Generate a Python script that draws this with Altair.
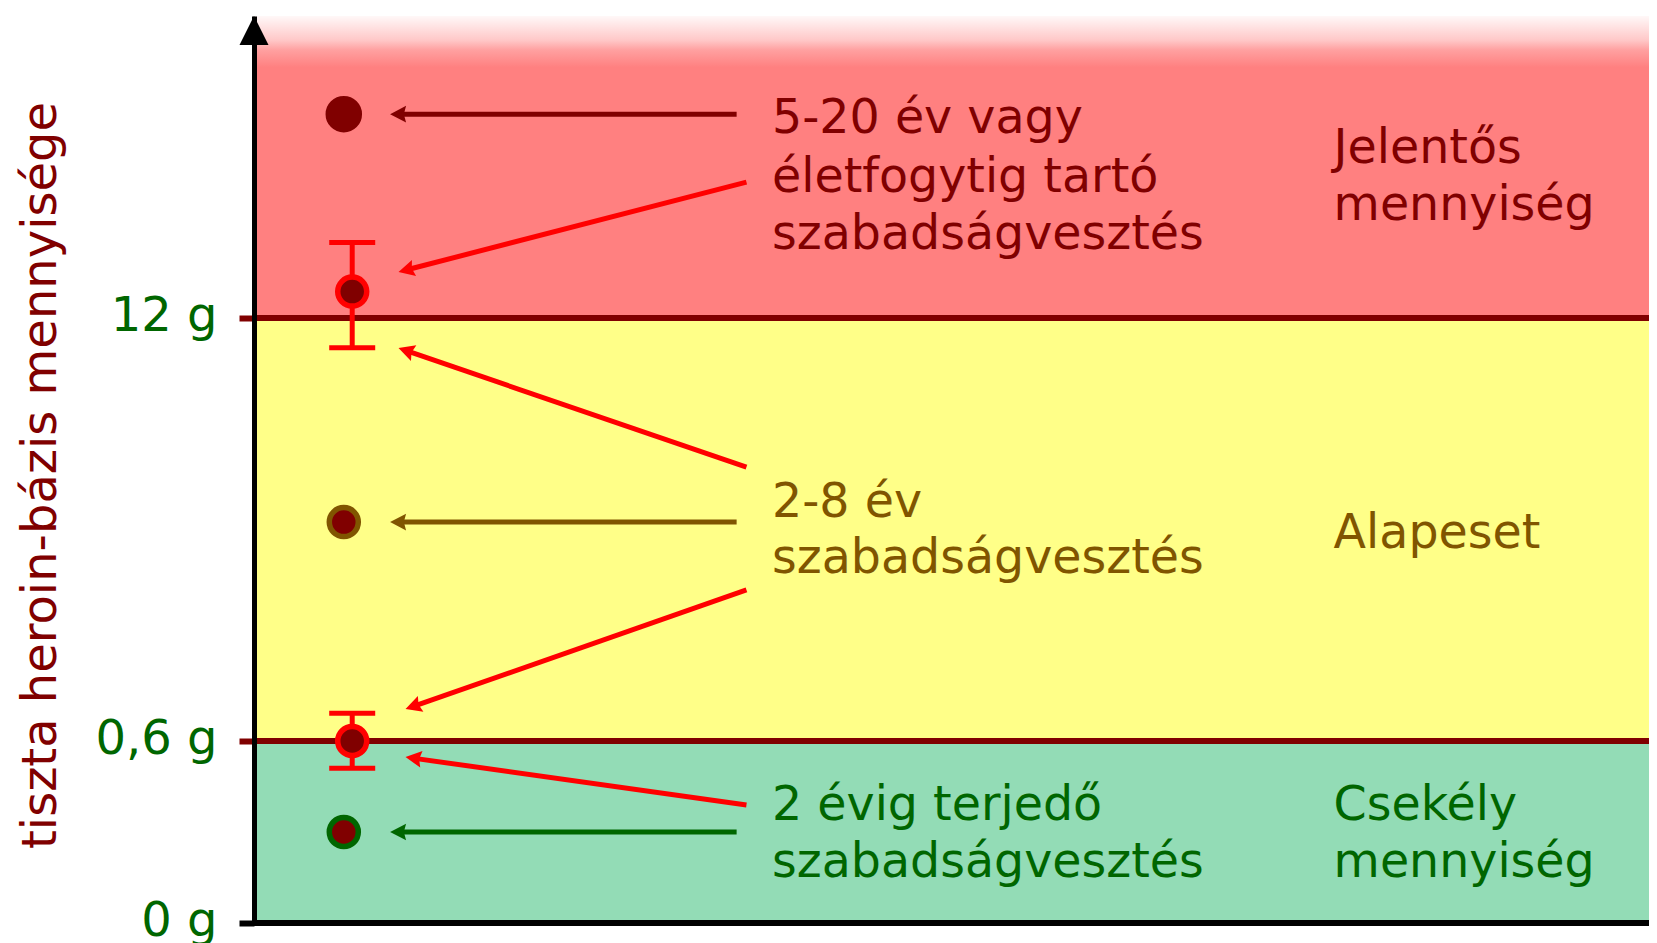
import math
import numpy as np
import pandas as pd
import altair as alt

# ---------------- layout of the plot area ----------------
W, H = 1395, 907
FONT = "DejaVu Sans"
FS = 48
FS_TXT = 47.5

DARK = "#800000"
RED = "#FF0000"
OLIVE = "#805500"
GREEN = "#006600"
PINK = "#FF8080"
YELLOW = "#FFFF88"
MINT = "#93DCB6"

# schematic (piecewise) quantity scale, in grams
Y_DOM = [0, 0.6, 12, 20]
Y_RNG = [H, H - 182, H - 605, 0]
X_DOM = [0, 99.43]

# ---------------- data ----------------
tick_values = [0, 0.6, 12]
tick_labels = ["0 g", "0,6 g", "12 g"]
axis_title = "tiszta heroin-bázis mennyisége"

band_lo = [0, 0.6]
band_hi = [0.6, 12]
band_fill = [MINT, YELLOW]
top_band_lo = [12]
top_band_hi = [20]

threshold_values = [0.6, 12]
baseline_values = [0]

point_x = [6.4, 7.0, 6.4, 7.0, 6.4]
point_y = [17.4, 12.7, 6.5, 0.6, 0.3]
point_ring = [DARK, RED, OLIVE, RED, GREEN]
point_size = [961, 841, 841, 841, 841]

err_x = [7.0, 7.0]
err_lo = [11.2, 0.51]
err_hi = [14.0, 1.35]

arrow_x1 = [34.4, 35.1, 35.1, 34.4, 35.1, 35.1, 34.4]
arrow_y1 = [17.4, 15.6, 7.98, 6.5, 4.67, 0.389, 0.3]
arrow_x2 = [9.7, 10.3, 10.3, 9.7, 10.8, 10.8, 9.7]
arrow_y2 = [17.4, 13.22, 11.19, 6.5, 1.46, 0.547, 0.3]
arrow_col = [DARK, RED, RED, OLIVE, RED, RED, GREEN]

text_lines = ["5-20 év vagy", "életfogytig tartó", "szabadságvesztés",
              "Jelentős", "mennyiség",
              "2-8 év", "szabadságvesztés",
              "Alapeset",
              "2 évig terjedő", "szabadságvesztés",
              "Csekély", "mennyiség"]
TX_L, TX_R = 36.92, 76.95
text_x = [TX_L, TX_L, TX_L, TX_R, TX_R, TX_L, TX_L, TX_R, TX_L, TX_L, TX_R, TX_R]
text_y = [16.9, 15.35, 13.82, 16.11, 14.60, 6.64, 5.13, 5.80, 0.340, 0.152, 0.340, 0.152]
text_col = [DARK] * 5 + [OLIVE] * 3 + [GREEN] * 4

# ---------------- helpers ----------------
PX_PER_X = W / (X_DOM[1] - X_DOM[0])

def ypx(g):
    return float(np.interp(g, Y_DOM, Y_RNG))

def yval(p):
    return float(np.interp(p, Y_RNG[::-1], Y_DOM[::-1]))

def xpx(v):
    return (v - X_DOM[0]) * PX_PER_X

def xval(p):
    return p / PX_PER_X + X_DOM[0]

HEAD_PATH = "M0,0L0.52,1L0,0.86L-0.52,1Z"
HEAD_S = 16  # px, = sqrt(size)/2

line_x2, line_y2, head_ang = [], [], []
for x1, y1, x2, y2 in zip(arrow_x1, arrow_y1, arrow_x2, arrow_y2):
    px1, py1, px2, py2 = xpx(x1), ypx(y1), xpx(x2), ypx(y2)
    dx, dy = px2 - px1, py2 - py1
    L = math.hypot(dx, dy)
    ux, uy = dx / L, dy / L
    line_x2.append(xval(px2 - ux * HEAD_S * 0.8))
    line_y2.append(yval(py2 - uy * HEAD_S * 0.8))
    head_ang.append(math.degrees(math.atan2(ux, -uy)) % 360)

label_expr = " : ".join(
    f"datum.value == {v} ? '{t}'" for v, t in zip(tick_values, tick_labels)
) + " : ''"

yscale = alt.Scale(domain=Y_DOM, range=Y_RNG, nice=False, zero=False)
xscale = alt.Scale(domain=X_DOM, nice=False, zero=False)

yaxis = alt.Axis(
    values=tick_values, labelExpr=label_expr, title=axis_title,
    titleFont=FONT, titleFontSize=FS, titleColor=DARK, titleFontWeight="normal",
    titleAngle=270, titleAlign="center", titleBaseline="alphabetic",
    titleX=-199, titleY=459,
    labelFont=FONT, labelFontSize=FS, labelColor=GREEN, labelPadding=22,
    labelBaseline="alphabetic", labelOffset=12, labelAlign="right",
    labelOverlap=False, labelBound=False, labelFlush=False,
    tickSize=15, tickWidth=6,
    tickColor={"condition": {"test": "datum.value == 0", "value": "black"}, "value": DARK},
    domainColor="black", domainWidth=5, grid=False, zindex=1,
)

def Y(f):
    return alt.Y(f, type="quantitative", scale=yscale, axis=yaxis)

def X(f):
    return alt.X(f, type="quantitative", scale=xscale, axis=None)

# ---------------- layers ----------------
bands = alt.Chart(pd.DataFrame({"lo": band_lo, "hi": band_hi, "c": band_fill})).mark_rect().encode(
    x=alt.X("x0:Q", scale=xscale, axis=None), x2="x1:Q",
    y=Y("lo"), y2="hi", fill=alt.Fill("c:N", scale=None),
).transform_calculate(x0=str(X_DOM[0]), x1=str(X_DOM[1]))

grad = alt.Gradient(
    gradient="linear", x1=0, y1=0, x2=0, y2=1,
    stops=[
        alt.GradientStop(color="#FFF8F8", offset=0),
        alt.GradientStop(color="#FFC8C8", offset=0.08),
        alt.GradientStop(color="#FFA0A0", offset=0.113),
        alt.GradientStop(color=PINK, offset=0.17),
        alt.GradientStop(color=PINK, offset=1),
    ],
)
top_band = alt.Chart(pd.DataFrame({"lo": top_band_lo, "hi": top_band_hi})).mark_rect(fill=grad).encode(
    x=alt.X("x0:Q", scale=xscale, axis=None), x2="x1:Q",
    y=Y("lo"), y2="hi",
).transform_calculate(x0=str(X_DOM[0]), x1=str(X_DOM[1]))

thresholds = alt.Chart(pd.DataFrame({"v": threshold_values})).mark_rule(
    color=DARK, strokeWidth=6).encode(y=Y("v"))

baseline = alt.Chart(pd.DataFrame({"v": baseline_values})).mark_rule(
    color="black", strokeWidth=6).encode(y=Y("v"))

err_df = pd.DataFrame({"x": err_x, "lo": err_lo, "hi": err_hi})
err_rule = alt.Chart(err_df).mark_rule(color=RED, strokeWidth=5).encode(
    x=X("x"), y=Y("lo"), y2="hi")
caps_df = pd.DataFrame({"x": err_x + err_x, "y": err_lo + err_hi})
err_caps = alt.Chart(caps_df).mark_tick(
    orient="horizontal", size=46, thickness=5, color=RED, opacity=1).encode(
    x=X("x"), y=Y("y"))

arr_df = pd.DataFrame({"x1": arrow_x1, "y1": arrow_y1, "lx": line_x2, "ly": line_y2,
                       "hx": arrow_x2, "hy": arrow_y2, "c": arrow_col, "ang": head_ang})
arr_lines = alt.Chart(arr_df).mark_rule(strokeWidth=5, strokeCap="butt").encode(
    x=X("x1"), y=Y("y1"), x2="lx", y2="ly", color=alt.Color("c:N", scale=None))
arr_heads = alt.Chart(arr_df).mark_point(
    shape=HEAD_PATH, size=(2 * HEAD_S) ** 2, filled=True, opacity=1, strokeWidth=0).encode(
    x=X("hx"), y=Y("hy"), fill=alt.Fill("c:N", scale=None), angle=alt.Angle("ang:Q", scale=None))

pts_df = pd.DataFrame({"x": point_x, "y": point_y, "ring": point_ring, "sz": point_size})
points = alt.Chart(pts_df).mark_point(
    shape="circle", filled=True, fill=DARK, strokeWidth=5.5, opacity=1).encode(
    x=X("x"), y=Y("y"), stroke=alt.Stroke("ring:N", scale=None), size=alt.Size("sz:Q", scale=None))

txt_df = pd.DataFrame({"x": text_x, "y": text_y, "t": text_lines, "c": text_col})
texts = alt.Chart(txt_df).mark_text(
    align="left", baseline="alphabetic", font=FONT, fontSize=FS_TXT).encode(
    x=X("x"), y=Y("y"), text="t:N", color=alt.Color("c:N", scale=None))

top_df = pd.DataFrame({"x": [X_DOM[0]], "y": [Y_DOM[-1]]})
axis_arrow = alt.Chart(top_df).mark_point(
    shape="M0,0L0.5,1L-0.5,1Z", size=58 ** 2, filled=True, fill="black",
    opacity=1, strokeWidth=0).encode(x=X("x"), y=Y("y"))

chart = alt.layer(
    bands, top_band, thresholds, baseline, err_rule, err_caps,
    arr_lines, arr_heads, points, texts, axis_arrow,
).properties(
    width=W, height=H,
    autosize=alt.AutoSizeParams(type="none"),
    padding={"left": 246, "top": 8, "right": 0, "bottom": 20},
    background="white",
).configure_view(stroke=None)

chart.save("out.html", embed_options={"renderer": "svg", "actions": False})
